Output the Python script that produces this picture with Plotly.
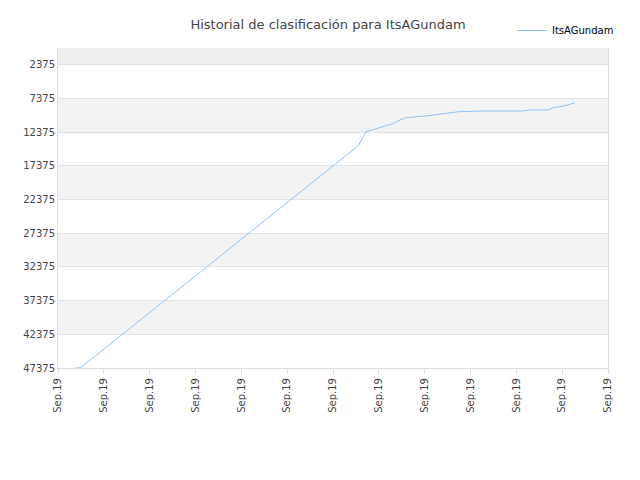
import plotly.graph_objects as go

x_pos = [0.33, 0.5, 6.55, 6.72, 7.3, 7.57, 8.07, 8.73, 9.27, 10.15, 10.26, 10.7, 10.8, 11.06, 11.28]
ranks = [47450, 47300, 14410, 12330, 11140, 10250, 9950, 9360, 9250, 9250, 9100, 9100, 8760, 8470, 8020]
tick_vals = list(range(13))
tick_text = ["Sep.19"] * 13
y_ticks = [2375, 7375, 12375, 17375, 22375, 27375, 32375, 37375, 42375, 47375]
y_text = [str(v) for v in y_ticks]

fig = go.Figure()
fig.add_trace(go.Scatter(x=x_pos, y=ranks, mode="lines", name="ItsAGundam",
                         line=dict(color="#8fc3f2", width=1)))
shapes = [dict(type="rect", xref="paper", x0=0, x1=1, yref="y", y0=-100, y1=2375,
               fillcolor="#eeeeee", line_width=0, layer="below")]
for lo in [7375, 17375, 27375, 37375]:
    shapes.append(dict(type="rect", xref="paper", x0=0, x1=1, yref="y", y0=lo, y1=lo + 5000,
                       fillcolor="#f3f3f3", line_width=0, layer="below"))
fig.update_layout(
    width=640, height=480, paper_bgcolor="white", plot_bgcolor="white",
    margin=dict(l=50, r=40, t=40, b=120, autoexpand=False),
    title=dict(text="Historial de clasificación para ItsAGundam", x=0.5, xanchor="center",
               y=0.975, font=dict(family="DejaVu Sans", size=13, color="#444")),
    font=dict(family="DejaVu Sans", size=10, color="#444"),
    shapes=shapes,
    legend=dict(x=1.02, y=1.1, xanchor="right", yanchor="top", bgcolor="rgba(0,0,0,0)",
                font=dict(size=10, color="#000")),
    showlegend=True,
)
fig.update_xaxes(range=[0, 12], tickvals=tick_vals, ticktext=tick_text, tickangle=-90,
                 showgrid=False, showline=True, linecolor="#ddd", ticks="outside",
                 ticklen=5, tickcolor="#ddd", zeroline=False, automargin=False)
fig.update_yaxes(range=[47375, -100], tickvals=y_ticks, ticktext=y_text, showgrid=True,
                 gridcolor="#e2e2e2", zeroline=False, showline=True, linecolor="#ddd",
                 mirror=True, automargin=False)
fig.write_html("out.html")
